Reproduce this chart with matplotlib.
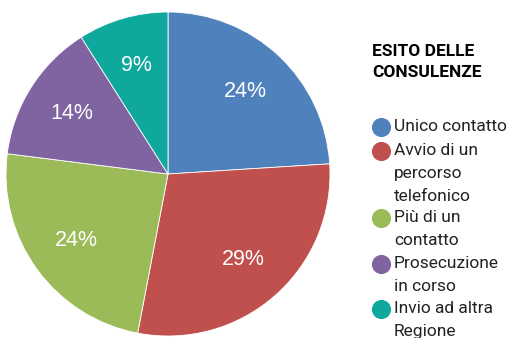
from matplotlib import pyplot as plt

shares = [24, 29, 24, 14, 9]
labels = ['Unico contatto', 'Avvio di un\npercorso\ntelefonico', 'Più di un\ncontatto',
          'Prosecuzione\nin corso', 'Invio ad altra\nRegione']
colors = ['#4F81BD', '#C0504D', '#9BBB59', '#8064A2', '#0FA89C']
title = 'ESITO DELLE\nCONSULENZE'

W, H = 509, 338
fig = plt.figure(figsize=(W / 100, H / 100), dpi=100)

# pie, centre ~(168,174) px, radius ~162 px
axes = fig.add_axes([6 / W, 2 / H, 324 / W, 324 / H])
axes.pie(shares, colors=colors, startangle=90, counterclock=False,
         autopct=lambda p: f"{p:.0f}%", pctdistance=0.7,
         wedgeprops={'linewidth': 0.6, 'edgecolor': 'white'},
         textprops={'color': 'white', 'fontsize': 15.5, 'family': 'Liberation Sans'})
axes.set_aspect('equal')
axes.set_xlim(-1, 1)
axes.set_ylim(-1, 1)

# legend drawn by hand in pixel space
legend = fig.add_axes([0, 0, 1, 1])
legend.set_xlim(0, W)
legend.set_ylim(H, 0)
legend.axis('off')
legend.text(372, 62, title, fontsize=12.5, fontweight='bold', family='Roboto',
            va='center', ha='left', linespacing=1.5)

y = 127
for label, color in zip(labels, colors):
    legend.scatter([381], [y], s=190, color=color, linewidths=0)
    legend.text(394, y - 8, label, fontsize=12.5, family='Roboto', va='top', ha='left',
                linespacing=1.68, color='#222222')
    y += label.count('\n') * 21.5 + 24

fig.savefig('out.png', dpi=100)
